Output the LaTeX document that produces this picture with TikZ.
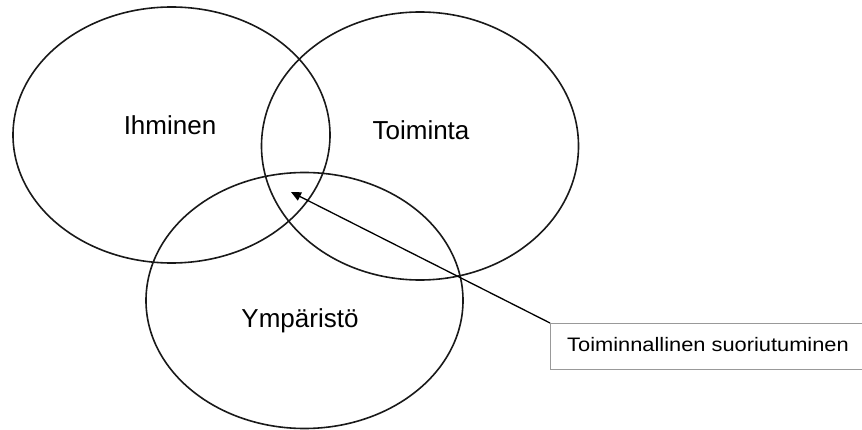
\documentclass[tikz,border=0pt]{standalone}
\usepackage{fontspec}
\setmainfont{Liberation Sans}
\usetikzlibrary{shapes.geometric,arrows.meta}
\begin{document}
\begin{tikzpicture}[x=1pt,y=-1pt,
  venn/.style={ellipse,draw=black!90,line width=1.6pt,inner sep=0pt,minimum width=317pt,minimum height=256pt},
  lab/.style={anchor=base,inner sep=0pt,font=\fontsize{26}{30}\selectfont},
  boxlab/.style={anchor=base west,inner sep=0pt,font=\fontsize{19.5}{23}\selectfont},
  callout/.style={draw=gray!80,line width=0.9pt,inner sep=0pt,anchor=north west,minimum width=312pt,minimum height=46pt}]
\useasboundingbox (0,0) rectangle (862,430);
\node[venn] (ih) at (171.5,135) {};
\node[venn,minimum height=268pt] (to) at (420,146) {};
\node[venn] (ym) at (304.5,300.5) {};
\node[lab] (ihl) at (170,135) {Ihminen};
\node[lab] (tol) at (421,140) {Toiminta};
\node[lab] (yml) at (300,327) {Ympäristö};
\node[callout] (box) at (550,323) {};
\node[boxlab] (boxl) at (567,351) {\scalebox{1.12}[1]{Toiminnallinen suoriutuminen}};
\coordinate (tip) at (291,192);
\draw[line width=1.3pt,-{Triangle[length=10pt,width=9pt]}] (box.north west) -- (tip);
\end{tikzpicture}
\end{document}
